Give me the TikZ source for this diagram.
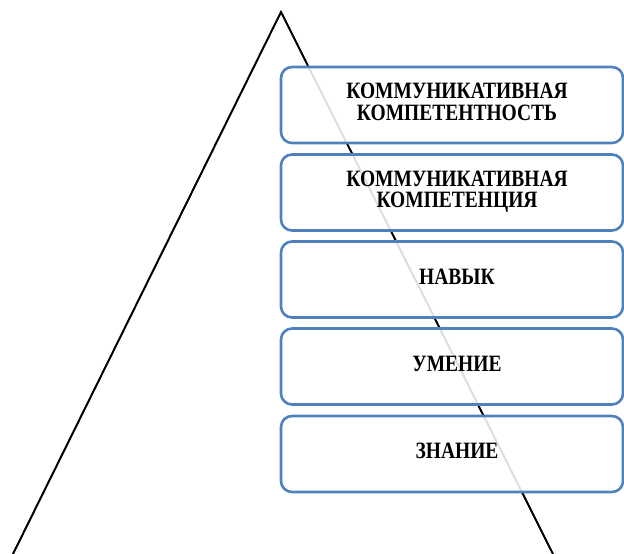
\documentclass[tikz,border=0pt]{standalone}
\usepackage{fontspec}
\setmainfont{Liberation Serif}
\definecolor{boxblue}{HTML}{4F81BD}
\newcommand{\tallcaps}[1]{\scalebox{1}[1.2]{\begin{tabular}{@{}c@{}}#1\end{tabular}}}
\begin{document}
\begin{tikzpicture}[x=1pt,y=-1pt,
  box/.style={draw=boxblue, line width=2.6pt, rounded corners=11pt, fill=white, fill opacity=0.87,
    minimum width=342pt, minimum height=76pt, inner sep=0pt},
  lbl/.style={font=\bfseries\fontsize{19.5}{16.7}\selectfont, align=center, inner sep=0pt},
  tri/.style={draw=black, line width=2pt, line join=miter}]
\useasboundingbox (0,0) rectangle (624,554);
\coordinate (apex) at (281,12);
\coordinate (bl) at (12,556);
\coordinate (br) at (554,556);
\draw[tri] (bl) -- (apex) -- (br);
\node[box] (b1) at (452,105) {};
\node[box] (b2) at (452,192.5) {};
\node[box] (b3) at (452,279.5) {};
\node[box] (b4) at (452,366.5) {};
\node[box] (b5) at (452,454) {};
\node[lbl] (t1) at ([xshift=5pt]b1.center) {\tallcaps{КОММУНИКАТИВНАЯ\\КОМПЕТЕНТНОСТЬ}};
\node[lbl] (t2) at ([xshift=5pt]b2.center) {\tallcaps{КОММУНИКАТИВНАЯ\\КОМПЕТЕНЦИЯ}};
\node[lbl] (t3) at ([xshift=5pt]b3.center) {\tallcaps{НАВЫК}};
\node[lbl] (t4) at ([xshift=5pt]b4.center) {\tallcaps{УМЕНИЕ}};
\node[lbl] (t5) at ([xshift=5pt]b5.center) {\tallcaps{ЗНАНИЕ}};
\end{tikzpicture}
\end{document}
